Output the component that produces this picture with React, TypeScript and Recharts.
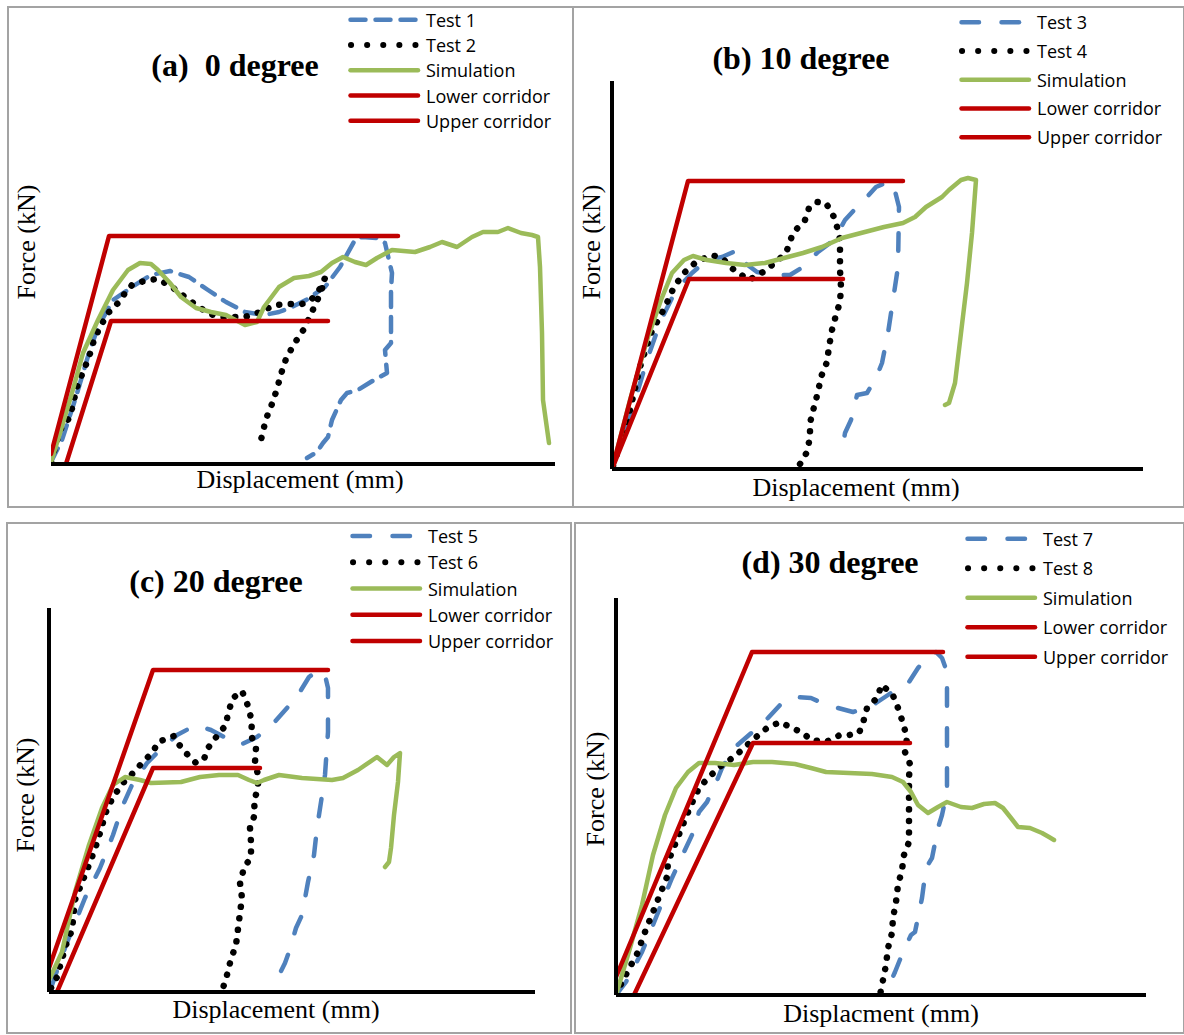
import React from "react";
import { Legend, Line, LineChart, XAxis, YAxis } from "recharts";

type Pt = [number, number]; // [displacement, force]

// ---------- (a) 0 degree ----------
const aNames = ["Test 1", "Test 2", "Simulation", "Lower corridor", "Upper corridor"];
const aTest1: Pt[] = [
  [0, 0.2], [1.1, 2.4], [2.4, 6.4], [3.8, 11.1], [4.7, 13.7], [6.2, 16.4], [8.1, 17.7], [10.0, 18.9],
  [11.9, 19.3], [13.8, 18.7], [15.7, 17.4], [17.5, 16.2], [19.4, 15.2], [21.3, 14.9], [22.8, 15.2],
  [23.9, 15.6], [25.5, 16.4], [27.4, 17.7], [28.9, 19.7], [30.4, 22.4], [31.1, 22.7], [32.6, 22.6],
  [33.4, 22.1], [34.1, 19.1], [34.0, 17.4], [34.0, 12.1], [33.4, 11.4], [33.6, 9.1], [32.3, 8.4],
  [30.7, 7.4], [29.6, 7.1], [29.0, 6.4], [28.1, 4.4], [27.7, 2.7], [27.2, 2.1], [26.6, 1.2], [25.6, 0.6],
];
const aTest2: Pt[] = [
  [0, 0.2], [0.9, 3.4], [1.9, 4.7], [2.6, 7.7], [3.8, 10.7], [4.3, 12.4], [4.9, 13.7], [5.7, 15.1],
  [6.8, 16.2], [7.4, 17.1], [8.1, 17.9], [9.6, 18.4], [10.7, 18.5], [12.1, 17.7], [13.4, 16.7],
  [14.5, 15.9], [15.7, 15.1], [16.8, 14.7], [19.4, 14.7], [20.9, 15.2], [22.4, 15.9], [23.6, 16.0],
  [25.1, 16.0], [26.0, 16.4], [26.6, 17.1], [27.0, 17.7], [27.4, 18.6], [27.0, 17.2], [26.0, 15.0],
  [25.3, 13.5], [24.3, 12.0], [23.5, 10.5], [23.0, 9.0], [22.6, 7.5], [22.1, 6.0], [21.5, 4.5], [20.9, 2.0],
];
const aSim: Pt[] = [
  [0, 0.2], [0.9, 3.1], [2.1, 7.1], [3.2, 11.1], [4.7, 14.4], [6.2, 17.4], [7.7, 19.4], [8.9, 20.1],
  [10.0, 20.0], [10.7, 19.4], [11.9, 18.1], [13.0, 16.7], [14.5, 15.6], [16.0, 15.2], [17.5, 14.9],
  [19.4, 13.9], [20.6, 14.2], [21.3, 15.7], [22.8, 17.7], [24.3, 18.6], [25.8, 18.8], [27.0, 19.2],
  [28.1, 20.1], [29.2, 20.7], [30.4, 20.2], [31.5, 19.9], [32.6, 20.6], [34.1, 21.4], [36.4, 21.2],
  [37.9, 21.7], [39.1, 22.2], [40.6, 21.7], [42.1, 22.7], [43.2, 23.2], [44.7, 23.2], [45.7, 23.6],
  [47.0, 23.1], [48.1, 22.9], [48.7, 22.7], [48.9, 19.7], [49.1, 13.1], [49.2, 6.4], [49.8, 2.1],
];
const aLower: Pt[] = [[1.5, 0], [6.0, 14.3], [27.7, 14.3]];
const aUpper: Pt[] = [[0, 1.0], [5.8, 22.8], [34.7, 22.8]];

// ---------- (b) 10 degree ----------
const bNames = ["Test 3", "Test 4", "Simulation", "Lower corridor", "Upper corridor"];
const bTest3: Pt[] = [
  [0.1, 0.3], [1.8, 5.2], [3.5, 10.9], [4.9, 14.9], [6.4, 17.9], [8.0, 19.6], [9.5, 20.9], [11.0, 21.2],
  [12.6, 21.9], [13.3, 20.6], [14.5, 19.7], [16.0, 19.4], [17.8, 19.4], [19.1, 20.2], [20.6, 21.7],
  [22.2, 22.9], [23.3, 24.9], [24.5, 26.2], [25.5, 27.2], [26.4, 28.2], [27.6, 28.7], [28.1, 28.6],
  [28.7, 26.2], [28.6, 20.2], [28.1, 16.9], [27.6, 13.6], [27.0, 10.6], [26.4, 9.1], [25.5, 7.6],
  [24.5, 7.4], [24.1, 5.6], [23.9, 4.9], [23.3, 3.6], [22.9, 1.2],
];
const bTest4: Pt[] = [
  [0.1, 0.3], [1.4, 4.2], [2.8, 10.2], [3.9, 13.6], [5.3, 16.2], [6.2, 18.2], [7.2, 19.6], [8.3, 20.6],
  [9.9, 21.4], [11.0, 21.1], [12.2, 19.9], [13.7, 18.9], [15.1, 19.7], [16.4, 20.7], [17.4, 21.6],
  [18.1, 23.6], [19.3, 24.9], [19.7, 26.1], [20.5, 26.7], [21.4, 26.6], [22.2, 25.2], [22.6, 23.9],
  [22.8, 22.9], [22.8, 21.6], [22.8, 19.9], [22.9, 18.2], [22.8, 16.7], [22.4, 15.4], [22.0, 13.9],
  [21.7, 12.2], [21.5, 10.7], [20.9, 9.2], [20.6, 7.7], [20.2, 6.2], [19.8, 4.6], [19.8, 3.2],
  [19.5, 1.7], [18.8, 0.5],
];
const bSim: Pt[] = [
  [0.1, 0.3], [1.8, 6.9], [3.5, 12.9], [4.9, 16.9], [6.0, 19.6], [7.2, 20.9], [8.1, 21.3], [9.5, 20.9],
  [11.4, 20.6], [13.3, 20.4], [15.3, 20.6], [17.2, 21.1], [19.1, 21.6], [21.0, 22.2], [23.0, 23.1],
  [24.9, 23.6], [27.2, 24.2], [29.1, 24.6], [30.3, 25.2], [31.4, 26.2], [33.0, 27.2], [33.7, 27.9],
  [34.9, 28.9], [35.6, 29.1], [36.4, 28.9], [36.0, 23.6], [35.5, 18.6], [34.9, 13.6], [34.3, 8.6],
  [33.7, 6.6], [33.3, 6.4],
];
const bLower: Pt[] = [[0, 0], [7.7, 19.0], [23.1, 19.0]];
const bUpper: Pt[] = [[0, 0], [7.6, 28.8], [29.1, 28.8]];

// ---------- (c) 20 degree ----------
const cNames = ["Test 5", "Test 6", "Simulation", "Lower corridor", "Upper corridor"];
const cTest5: Pt[] = [
  [0.2, 0.4], [1.7, 4.7], [3.6, 9.4], [5.1, 12.4], [6.4, 15.7], [7.4, 18.7], [8.3, 20.7], [9.8, 22.9],
  [11.3, 24.4], [12.8, 25.7], [14.7, 26.7], [16.2, 26.2], [17.7, 25.4], [19.1, 24.7], [20.8, 25.5],
  [22.3, 26.7], [23.8, 28.4], [24.9, 29.7], [26.0, 31.5], [27.0, 32.2], [27.6, 31.7], [27.9, 30.4],
  [27.9, 26.0], [27.6, 21.7], [27.2, 19.0], [26.8, 16.4], [26.5, 13.7], [25.9, 11.0], [25.3, 7.7],
  [24.7, 6.4], [24.0, 4.0], [23.6, 2.9], [23.0, 1.7], [22.3, 0.4],
];
const cTest6: Pt[] = [
  [0.2, 0.4], [0.8, 1.5], [1.7, 4.7], [2.3, 6.2], [2.6, 9.2], [3.2, 10.7], [3.8, 12.2], [4.3, 13.5],
  [4.9, 15.2], [5.7, 18.0], [6.4, 19.5], [7.4, 20.9], [8.5, 22.0], [9.3, 22.9], [10.4, 24.0],
  [10.9, 25.0], [12.5, 25.6], [12.8, 25.0], [13.6, 24.0], [14.7, 22.9], [15.5, 23.3], [15.9, 24.4],
  [16.8, 25.6], [17.7, 26.7], [17.9, 27.9], [18.4, 29.4], [19.3, 30.1], [19.9, 28.6], [20.3, 27.0],
  [20.2, 25.7], [20.7, 24.4], [20.6, 23.0], [20.9, 21.7], [20.9, 20.4], [20.5, 19.1], [20.6, 17.8],
  [20.1, 16.4], [20.2, 15.0], [20.2, 13.5], [19.5, 12.4], [19.1, 10.9], [19.3, 9.4], [19.1, 7.9],
  [18.9, 6.3], [18.7, 4.7], [18.2, 3.3], [17.8, 1.7], [17.4, 0.4],
];
const cSim: Pt[] = [
  [0, 1.2], [1.3, 4.0], [2.6, 10.0], [4.0, 14.7], [5.3, 18.4], [6.4, 20.7], [7.6, 21.5], [9.1, 21.2],
  [10.2, 20.9], [13.2, 21.0], [15.1, 21.5], [17.0, 21.7], [18.9, 21.7], [20.0, 21.2], [20.8, 20.9],
  [21.5, 21.2], [23.0, 21.7], [25.3, 21.4], [28.3, 21.2], [29.4, 21.4], [30.9, 22.2], [32.8, 23.5],
  [33.8, 22.7], [34.5, 23.5], [35.1, 23.9], [34.9, 21.0], [34.5, 17.7], [34.2, 14.4], [34.0, 13.0],
  [33.6, 12.5],
];
const cLower: Pt[] = [[0.8, 0], [10.4, 22.4], [21.1, 22.4]];
const cUpper: Pt[] = [[0, 2.4], [10.4, 32.2], [27.9, 32.2]];

// ---------- (d) 30 degree ----------
const dNames = ["Test 7", "Test 8", "Simulation", "Lower corridor", "Upper corridor"];
const dTest7: Pt[] = [
  [0, 0], [1.0, 1.3], [2.6, 4.3], [4.1, 8.0], [5.6, 11.7], [6.8, 14.3], [7.6, 16.0], [8.3, 18.3],
  [9.1, 19.3], [10.2, 21.7], [10.6, 22.7], [11.8, 24.7], [13.3, 26.0], [14.5, 27.0], [15.2, 27.7],
  [16.4, 29.0], [17.9, 29.8], [19.5, 29.7], [20.6, 29.2], [22.2, 28.7], [23.7, 28.3], [24.9, 28.7],
  [26.0, 29.2], [27.2, 30.0], [28.3, 30.7], [29.3, 31.3], [30.2, 32.7], [31.0, 33.7], [32.0, 34.3],
  [32.6, 33.7], [33.1, 32.3], [33.1, 29.3], [33.1, 24.7], [33.1, 20.3], [32.6, 18.0], [32.2, 16.7],
  [31.6, 13.7], [31.0, 12.7], [30.6, 9.7], [29.9, 6.3], [29.5, 6.0], [28.7, 4.3], [27.9, 2.3],
  [27.2, 0.7], [26.4, 0],
];
const dTest8: Pt[] = [
  [0, 0], [0.6, 1.3], [1.4, 2.8], [2.2, 4.3], [2.7, 5.8], [3.3, 7.3], [3.9, 8.8], [4.5, 10.3],
  [5.1, 11.8], [5.2, 13.3], [5.8, 14.8], [6.4, 16.3], [7.0, 17.8], [7.6, 19.2], [8.3, 20.7], [9.3, 21.8],
  [10.6, 23.0], [11.8, 23.8], [12.9, 24.8], [13.9, 25.7], [15.1, 26.7], [16.4, 27.3], [17.4, 26.8],
  [18.7, 26.2], [19.5, 25.5], [21.0, 25.3], [22.4, 26.0], [23.3, 26.0], [24.3, 26.2], [24.7, 27.2],
  [25.1, 28.7], [26.2, 29.8], [26.5, 31.0], [27.6, 30.2], [28.2, 28.7], [28.7, 27.2], [29.1, 25.7],
  [28.9, 24.3], [29.4, 23.1], [29.3, 21.8], [29.3, 20.3], [29.3, 18.7], [29.3, 17.0], [29.3, 15.3],
  [28.8, 14.0], [28.6, 12.5], [28.2, 11.0], [28.0, 9.3], [27.7, 7.7], [27.6, 6.2], [27.2, 4.7],
  [27.0, 3.0], [26.7, 1.5], [26.4, 0],
];
const dSim: Pt[] = [
  [0, 0], [1.4, 4.7], [2.6, 9.0], [3.7, 14.0], [4.9, 18.0], [6.0, 20.7], [7.2, 22.3], [8.3, 23.2],
  [9.9, 23.2], [11.8, 23.0], [13.7, 23.3], [15.6, 23.3], [17.9, 23.1], [19.5, 22.7], [21.0, 22.3],
  [23.3, 22.2], [25.6, 22.1], [27.6, 21.8], [28.7, 21.3], [29.5, 20.3], [30.2, 19.0], [31.2, 18.2],
  [32.2, 18.8], [33.1, 19.3], [34.5, 18.8], [35.6, 18.7], [36.8, 19.1], [37.9, 19.2], [38.7, 18.7],
  [39.5, 17.7], [40.2, 16.8], [41.4, 16.7], [42.6, 16.2], [43.3, 15.8], [43.8, 15.5],
];
const dLower: Pt[] = [[1.8, 0], [13.7, 25.2], [29.4, 25.2]];
const dUpper: Pt[] = [[0, 1.8], [13.6, 34.3], [32.7, 34.3]];

// ---------- styles ----------
const BLUE = "#4f81bd";
const GREEN = "#9bbb59";
const RED = "#c00000";
const SERIF = '"Liberation Serif", "Times New Roman", serif';
const SANS = '"Open Sans", "Liberation Sans", sans-serif';

type Kind = "dash" | "dot" | "sim" | "lower" | "upper";
const KINDS: Kind[] = ["dash", "dot", "sim", "lower", "upper"];

type Box = { l: number; t: number; w: number; h: number };

interface PanelCfg {
  title: string;
  xLabel: string;
  names: string[];
  series: Pt[][];
  xMax: number;
  yMax: number;
  box: Box;
  plot: { x0: number; x1: number; yTop: number; yBottom: number };
  showY: boolean;
  dash: string;
  legend: { x: number; y0: number; gap: number };
  titlePos: [number, number];
  forcePos: [number, number];
  dispPos: [number, number];
  frame: Box;
}

const panels: PanelCfg[] = [
  {
    title: "(a)  0 degree", xLabel: "Displacement (mm)", names: aNames,
    series: [aTest1, aTest2, aSim, aLower, aUpper], xMax: 50.4, yMax: 30,
    box: { l: 8, t: 8, w: 565, h: 499 }, plot: { x0: 51, x1: 555, yTop: 164, yBottom: 464 },
    showY: false, dash: "15 10", legend: { x: 348, y0: 20, gap: 25.3 },
    titlePos: [235, 68], forcePos: [29, 242], dispPos: [300, 482],
    frame: { l: 7, t: 6, w: 567, h: 502 },
  },
  {
    title: "(b) 10 degree", xLabel: "Displacement (mm)", names: bNames,
    series: [bTest3, bTest4, bSim, bLower, bUpper], xMax: 53.1, yMax: 38.8,
    box: { l: 573, t: 8, w: 611, h: 499 }, plot: { x0: 612, x1: 1143, yTop: 81, yBottom: 469 },
    showY: true, dash: "17.5 22.5", legend: { x: 959, y0: 22, gap: 28.7 },
    titlePos: [801, 61], forcePos: [594, 242], dispPos: [856, 490],
    frame: { l: 572, t: 6, w: 613, h: 502 },
  },
  {
    title: "(c) 20 degree", xLabel: "Displacement (mm)", names: cNames,
    series: [cTest5, cTest6, cSim, cLower, cUpper], xMax: 48.6, yMax: 38.4,
    box: { l: 7, t: 523, w: 565, h: 510 }, plot: { x0: 49, x1: 535, yTop: 608, yBottom: 992 },
    showY: true, dash: "17.5 22.5", legend: { x: 350, y0: 536, gap: 26.2 },
    titlePos: [216, 584], forcePos: [28, 795], dispPos: [276, 1012],
    frame: { l: 6, t: 522, w: 566, h: 512 },
  },
  {
    title: "(d) 30 degree", xLabel: "Displacment (mm)", names: dNames,
    series: [dTest7, dTest8, dSim, dLower, dUpper], xMax: 53, yMax: 39.7,
    box: { l: 575, t: 523, w: 609, h: 510 }, plot: { x0: 616, x1: 1146, yTop: 598, yBottom: 995 },
    showY: true, dash: "17.5 22.5", legend: { x: 965, y0: 539, gap: 29.5 },
    titlePos: [830, 565], forcePos: [598, 789], dispPos: [881, 1016],
    frame: { l: 574, t: 522, w: 611, h: 512 },
  },
];

function strokeFor(kind: Kind, dash: string) {
  switch (kind) {
    case "dash":
      return { stroke: BLUE, strokeWidth: 4.5, strokeDasharray: dash };
    case "dot":
      return { stroke: "#000", strokeWidth: 6.5, strokeDasharray: "0.1 11.5" };
    case "sim":
      return { stroke: GREEN, strokeWidth: 4.5 };
    default:
      return { stroke: RED, strokeWidth: 4.5 };
  }
}

function legendIcon(kind: Kind, cy: number, dash: string) {
  if (kind === "dot") {
    return <line x1={3} x2={68} y1={cy} y2={cy} stroke="#000" strokeWidth={6} strokeDasharray="0.1 16" strokeLinecap="round" />;
  }
  const s = strokeFor(kind, dash);
  return <line x1={2.5} x2={70} y1={cy} y2={cy} {...s} strokeLinecap="round" />;
}

function makeLegend(cfg: PanelCfg) {
  return (props: any) => {
    const payload: any[] = props.payload || [];
    const rows = payload
      .map((p) => ({ name: String(p.value), idx: cfg.names.indexOf(String(p.value)) }))
      .filter((r) => r.idx >= 0)
      .sort((a, b) => a.idx - b.idx);
    const g = cfg.legend.gap;
    return (
      <svg width={240} height={g * rows.length} style={{ display: "block", overflow: "visible" }}>
        {rows.map((r, i) => {
          const cy = g / 2 + i * g;
          return (
            <g key={r.name}>
              {legendIcon(KINDS[r.idx], cy, cfg.dash)}
              <text x={78} y={cy} dominantBaseline="central" fontFamily={SANS} fontSize={18} fill="#000">
                {r.name}
              </text>
            </g>
          );
        })}
      </svg>
    );
  };
}

function Panel({ cfg }: { cfg: PanelCfg }) {
  const { box, plot } = cfg;
  // axes are 1px wide/high so Recharts still draws their lines
  const margin = {
    left: plot.x0 - box.l - (cfg.showY ? 1 : 0),
    right: box.l + box.w - plot.x1,
    top: plot.yTop - box.t,
    bottom: box.t + box.h - plot.yBottom - 1,
  };
  const axisLine = { stroke: "#000", strokeWidth: 4 };
  return (
    <>
      <div
        style={{
          position: "absolute", left: cfg.frame.l, top: cfg.frame.t, width: cfg.frame.w, height: cfg.frame.h,
          border: "2px solid #a3a3a3", boxSizing: "border-box",
        }}
      />
      <div style={{ position: "absolute", left: box.l, top: box.t }}>
        <LineChart width={box.w} height={box.h} margin={margin}>
          <XAxis
            dataKey="x" type="number" domain={[0, cfg.xMax]} allowDataOverflow
            height={1} tick={false} tickLine={false} axisLine={axisLine}
          />
          <YAxis
            dataKey="f" type="number" domain={[0, cfg.yMax]} allowDataOverflow
            width={1} tick={false} tickLine={false} axisLine={cfg.showY ? axisLine : false} hide={!cfg.showY}
          />
          <Legend
            layout="vertical" align="center" verticalAlign="middle"
            wrapperStyle={{ left: cfg.legend.x - box.l, top: cfg.legend.y0 - cfg.legend.gap / 2 - box.t }}
            content={makeLegend(cfg)}
          />
          {cfg.series.map((s, i) => (
            <Line
              key={cfg.names[i]}
              name={cfg.names[i]}
              data={s.map(([x, f]) => ({ x, f }))}
              dataKey="f"
              type="linear"
              dot={false}
              activeDot={false}
              isAnimationActive={false}
              strokeLinecap="round"
              strokeLinejoin="round"
              {...strokeFor(KINDS[i], cfg.dash)}
            />
          ))}
        </LineChart>
      </div>
      <div
        style={{
          position: "absolute", left: cfg.titlePos[0], top: cfg.titlePos[1], transform: "translate(-50%, -59%)",
          fontFamily: SERIF, fontWeight: "bold", fontSize: 32, lineHeight: 1, whiteSpace: "pre",
        }}
      >
        {cfg.title}
      </div>
      <div
        style={{
          position: "absolute", left: cfg.forcePos[0] - 2, top: cfg.forcePos[1],
          transform: "translate(-50%, -50%) rotate(-90deg)",
          fontFamily: SERIF, fontSize: 26, lineHeight: 1, whiteSpace: "pre",
        }}
      >
        Force (kN)
      </div>
      <div
        style={{
          position: "absolute", left: cfg.dispPos[0], top: cfg.dispPos[1], transform: "translate(-50%, -59%)",
          fontFamily: SERIF, fontSize: 26, lineHeight: 1, whiteSpace: "pre",
        }}
      >
        {cfg.xLabel}
      </div>
    </>
  );
}

export default function App() {
  return (
    <div
      style={{
        position: "absolute", left: 0, top: 0, width: 1184, height: 1035, background: "#fff", overflow: "hidden",
      }}
    >
      {panels.map((p) => (
        <Panel key={p.title} cfg={p} />
      ))}
    </div>
  );
}
